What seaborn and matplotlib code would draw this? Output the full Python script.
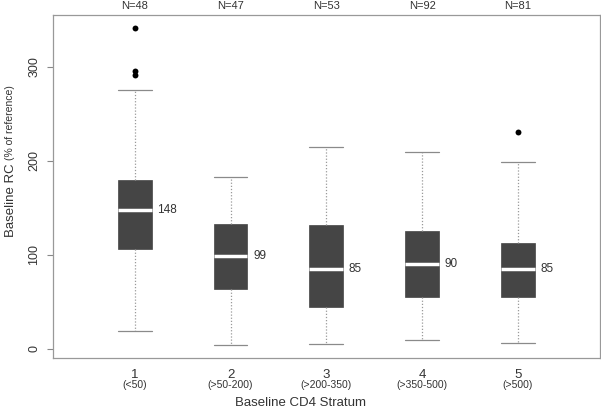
import numpy as np
import pandas as pd
import matplotlib
matplotlib.use("Agg")
import matplotlib.pyplot as plt
import seaborn as sns

# ---- data ----
strata = ["1", "2", "3", "4", "5"]
ranges = ["(<50)", "(>50-200)", "(>200-350)", "(>350-500)", "(>500)"]
n_counts = [48, 47, 53, 92, 81]
whisker_low = [18.6, 3.7, 4.8, 9.0, 6.2]
q1 = [105.5, 63.8, 44.6, 55.0, 54.6]
medians = [148, 99, 85, 90, 85]
q3 = [179.6, 132.4, 132.0, 125.0, 112.8]
whisker_high = [275.6, 183.2, 215.0, 209.5, 198.8]
outlier_stratum = ["1", "1", "1", "5"]
outlier_values = [341.7, 295.8, 291.6, 230.5]

# five-number summaries as a long table (quartiles of 5 points reproduce them exactly)
rows = []
for s, lo, a, m, b, hi in zip(strata, whisker_low, q1, medians, q3, whisker_high):
    for v in (lo, a, m, b, hi):
        rows.append({"stratum": s, "value": v})
df = pd.DataFrame(rows)
out_df = pd.DataFrame({"stratum": outlier_stratum, "value": outlier_values})

sns.set_style("white")
plt.rcParams["font.family"] = ["Liberation Sans", "DejaVu Sans"]

fig = plt.figure(figsize=(6.01, 4.11), dpi=100)
ax = fig.add_axes([0.088, 0.129, 0.91, 0.835])

box_col = "#454545"
sns.boxplot(data=df, x="stratum", y="value", order=strata, whis=(0, 100),
            width=0.354, ax=ax, showfliers=False,
            boxprops=dict(facecolor=box_col, edgecolor=box_col, linewidth=0.5),
            medianprops=dict(color="white", linewidth=2.5),
            whiskerprops=dict(color="#9a9a9a", linestyle=(0, (1, 1.5)), linewidth=0.9),
            capprops=dict(color="#8a8a8a", linewidth=0.9))

# make caps as wide as the boxes
for line in ax.lines:
    xd = np.asarray(line.get_xdata(), dtype=float)
    yd = np.asarray(line.get_ydata(), dtype=float)
    if len(xd) == 2 and yd[0] == yd[1] and line.get_color() in ("#8a8a8a",):
        c = xd.mean()
        line.set_xdata([c - 0.177, c + 0.177])

sns.scatterplot(data=out_df, x="stratum", y="value", ax=ax, color="black",
                s=18, edgecolor="black", linewidth=0, zorder=5)

ax.set_xlim(-0.854, 4.854)
ax.set_ylim(-10.1, 355.5)

# median labels
for i, m in enumerate(medians):
    ax.text(i + 0.235, m, f"{m}", ha="left", va="center", fontsize=8.5, color="#333333")

# N labels above plot and range labels below
for i, n in enumerate(n_counts):
    ax.text(i, 1.012, f"N={n}", transform=ax.get_xaxis_transform(), ha="center",
            va="bottom", fontsize=8, color="#333333")
    ax.text(i, -0.065, ranges[i], transform=ax.get_xaxis_transform(), ha="center",
            va="top", fontsize=7.5, color="#333333")

ax.set_xticks(range(len(strata)))
ax.set_xticklabels(strata, fontsize=9.5, color="#333333")
ax.tick_params(axis="x", length=0, pad=8)
ax.set_yticks([0, 100, 200, 300])
ax.set_yticklabels(["0", "100", "200", "300"], rotation=90, va="center",
                   fontsize=9, color="#333333")
ax.tick_params(axis="y", length=4, color="#888888", left=True, width=0.8, pad=5)
ax.set_xlabel("")
ax.set_ylabel("")
for sp in ax.spines.values():
    sp.set_color("#999999")
    sp.set_linewidth(0.9)

fig.text(0.5, 0.005, "Baseline CD4 Stratum", ha="center", va="bottom",
         fontsize=9.5, color="#333333")
fig.text(0.008, 1 - 160 / 411, "Baseline RC ", rotation=90, rotation_mode="anchor",
         ha="right", va="top", fontsize=9.5, color="#333333")
fig.text(0.008, 1 - 160 / 411, "(% of reference)", rotation=90, rotation_mode="anchor",
         ha="left", va="top", fontsize=7.5, color="#333333")

fig.savefig("out.png", dpi=100)
